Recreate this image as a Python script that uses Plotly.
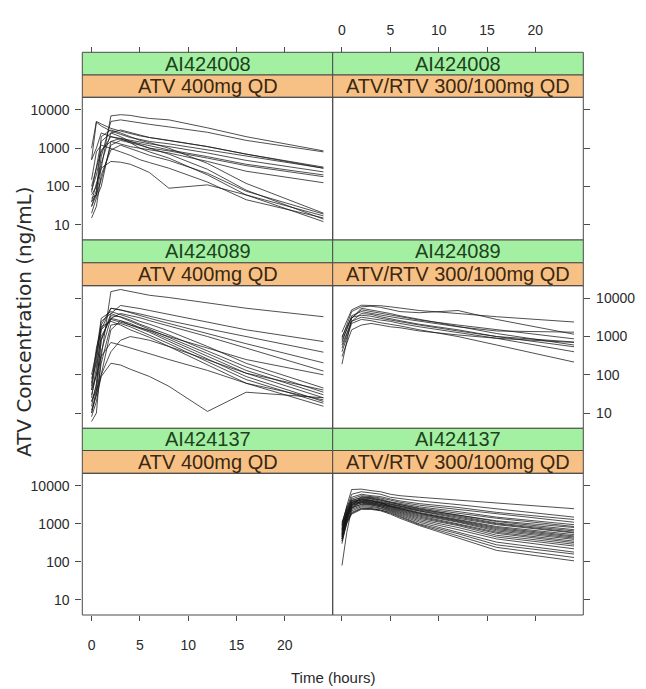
import plotly.graph_objects as go

# ---------------- data ----------------
TIMES = [0, 0.5, 1, 2, 3, 4, 5, 6, 8, 12, 16, 24]
STUDIES = ["AI424008", "AI424089", "AI424137"]
REGIMENS = ["ATV 400mg QD", "ATV/RTV 300/100mg QD"]
X_TICKS = [0, 5, 10, 15, 20]
Y_TICKS = [10, 100, 1000, 10000]
Y_TICK_TEXT = ["10", "100", "1000", "10000"]

# AI424008, ATV 400mg QD
AI424008_ATV = [
    [40, 60, 300, 7000, 7500, 7200, 6500, 6000, 5500, 3400, 2000, 850],
    [30, 80, 600, 5000, 5500, 5000, 4600, 4200, 3600, 2600, 1600, 800],
    [1000, 5000, 4300, 3300, 2800, 2400, 2100, 1900, 1600, 1100, 700, 320],
    [500, 4800, 3800, 2800, 2300, 1900, 1700, 1500, 1300, 900, 600, 300],
    [60, 100, 400, 2500, 3000, 2600, 2200, 1900, 1600, 1100, 700, 300],
    [80, 200, 800, 2000, 1800, 1600, 1400, 1300, 1100, 750, 480, 240],
    [50, 60, 150, 1200, 1600, 1400, 1200, 1000, 850, 550, 350, 180],
    [100, 300, 900, 1500, 1300, 1100, 1000, 900, 750, 450, 250, 125],
    [40, 120, 300, 450, 430, 380, 300, 230, 90, 110, 60, 17],
    [30, 60, 2000, 3000, 2500, 2000, 1600, 1400, 1000, 400, 120, 20],
    [70, 300, 1500, 2500, 2000, 1500, 1200, 1000, 700, 280, 80, 14],
    [20, 50, 100, 1500, 1800, 1400, 1000, 800, 550, 200, 60, 12],
    [150, 800, 1200, 1000, 800, 650, 500, 420, 300, 130, 45, 15],
    [15, 30, 200, 900, 1200, 1000, 800, 650, 480, 220, 75, 19],
    [500, 1000, 2500, 2000, 1700, 1500, 1300, 1150, 900, 600, 380, 200],
]

# AI424089, ATV 400mg QD
AI424089_ATV = [
    [6, 10, 300, 15000, 17000, 15000, 13000, 12000, 10500, 7500, 5500, 3300],
    [20, 50, 800, 4000, 6500, 6000, 5400, 4800, 3800, 2400, 1500, 740],
    [40, 300, 2000, 5500, 5000, 4400, 3900, 3400, 2600, 1600, 1000, 390],
    [30, 100, 1500, 5500, 5000, 4200, 3500, 3000, 2200, 1200, 650, 205],
    [10, 40, 400, 3000, 4000, 3600, 3100, 2600, 1900, 1000, 500, 125],
    [50, 400, 3000, 4500, 3800, 3100, 2500, 2100, 1400, 550, 200, 45],
    [15, 60, 800, 3500, 3300, 2700, 2100, 1700, 1100, 420, 160, 35],
    [80, 200, 2500, 4000, 3200, 2500, 1900, 1500, 950, 360, 130, 30],
    [8, 20, 100, 1500, 2600, 2200, 1700, 1400, 850, 300, 110, 25],
    [25, 150, 1000, 3000, 2600, 2000, 1600, 1300, 750, 260, 90, 20],
    [12, 30, 200, 2000, 2200, 1800, 1400, 1100, 650, 220, 75, 18],
    [60, 500, 1800, 2500, 2000, 1500, 1200, 950, 550, 180, 60, 15],
    [20, 40, 100, 400, 800, 1000, 900, 800, 550, 250, 110, 40],
    [10, 30, 90, 200, 180, 140, 110, 90, 50, 11, 35, 25],
    [40, 100, 300, 700, 600, 500, 420, 350, 250, 130, 60, 22],
    [100, 400, 1500, 2800, 2400, 2000, 1700, 1450, 1000, 500, 250, 100],
]

# AI424089, ATV/RTV 300/100mg QD
AI424089_ATVRTV = [
    [1300, 2500, 5000, 6600, 6500, 6400, 6000, 5500, 4800, 4000, 3300, 2400],
    [900, 2000, 4500, 6000, 6200, 5800, 5000, 4500, 4200, 4800, 2800, 1150],
    [190, 800, 3000, 5000, 4500, 4000, 3600, 3200, 2700, 2000, 1500, 870],
    [700, 1500, 3500, 4500, 4000, 3600, 3300, 3000, 2500, 1800, 1400, 1300],
    [500, 1200, 2500, 4000, 3800, 3300, 2900, 2600, 2100, 1500, 1000, 540],
    [1000, 1800, 3200, 3600, 3400, 3000, 2700, 2500, 2000, 1400, 1000, 720],
    [400, 1000, 2200, 2800, 2600, 2300, 2100, 1900, 1500, 1000, 600, 215],
    [300, 700, 1500, 2000, 2200, 2000, 1800, 1700, 1400, 1100, 900, 700],
    [800, 1600, 3000, 5500, 5000, 4500, 4000, 3500, 2800, 1800, 1200, 600],
    [600, 1300, 2500, 3200, 3000, 2700, 2500, 2200, 1800, 1300, 900, 400],
]

# AI424137, ATV/RTV 300/100mg QD
AI424137_ATVRTV = [
    [900, 3000, 8000, 8200, 7500, 7000, 6000, 5500, 5000, 4200, 3500, 2500],
    [700, 2500, 6000, 7000, 6500, 6000, 5000, 4600, 4000, 3200, 2500, 1500],
    [500, 2000, 5000, 6000, 5500, 5200, 4500, 4000, 3400, 2700, 2000, 1300],
    [1000, 2800, 4500, 5500, 5200, 4800, 4200, 3700, 3100, 2400, 1800, 1100],
    [400, 1500, 4000, 5000, 5000, 4500, 3800, 3400, 2800, 2100, 1500, 950],
    [800, 2200, 4200, 4800, 4600, 4200, 3600, 3200, 2600, 1900, 1400, 850],
    [600, 1800, 3500, 4500, 4500, 4000, 3400, 3000, 2400, 1700, 1200, 800],
    [300, 1200, 3000, 5200, 4800, 4300, 3700, 3200, 2500, 1700, 1150, 700],
    [1100, 2500, 4000, 4200, 4000, 3600, 3200, 2900, 2300, 1600, 1050, 650],
    [450, 1600, 3600, 4600, 4200, 3800, 3300, 2900, 2200, 1500, 1000, 600],
    [750, 2000, 3800, 4000, 3800, 3500, 3000, 2700, 2100, 1400, 950, 575],
    [350, 1300, 3200, 4400, 4100, 3600, 3000, 2600, 2000, 1300, 850, 520],
    [550, 1700, 3300, 3800, 3600, 3300, 2900, 2500, 1900, 1250, 800, 480],
    [80, 600, 2500, 4200, 4000, 3500, 2900, 2500, 1900, 1200, 750, 450],
    [900, 2100, 3500, 3700, 3500, 3200, 2800, 2400, 1800, 1150, 700, 420],
    [400, 1400, 3000, 3900, 3700, 3300, 2700, 2300, 1700, 1100, 650, 390],
    [650, 1800, 3100, 3500, 3300, 3000, 2600, 2200, 1600, 1000, 600, 350],
    [500, 1500, 2800, 3600, 3400, 3000, 2500, 2100, 1500, 950, 560, 320],
    [700, 1600, 2700, 3200, 3100, 2800, 2400, 2000, 1400, 900, 500, 290],
    [450, 1300, 2600, 3300, 3200, 2800, 2300, 1900, 1300, 800, 450, 260],
    [600, 1400, 2400, 3000, 2900, 2600, 2200, 1800, 1200, 700, 400, 220],
    [400, 1100, 2200, 2800, 2700, 2500, 2100, 1700, 1100, 600, 330, 180],
    [550, 1200, 2000, 2600, 2500, 2300, 2000, 1600, 1000, 550, 280, 160],
    [350, 1000, 1900, 2500, 2500, 2300, 1900, 1500, 950, 480, 240, 130],
    [500, 1100, 1800, 2400, 2400, 2200, 1800, 1400, 900, 420, 200, 106],
]

# (row, col) -> subject profiles ; rows = studies, cols = regimens
PANELS = {
    (0, 0): AI424008_ATV,
    (0, 1): [],
    (1, 0): AI424089_ATV,
    (1, 1): AI424089_ATVRTV,
    (2, 0): [],
    (2, 1): AI424137_ATVRTV,
}

# ---------------- layout geometry (window pixels) ----------------
OFF = 8                      # page body margin
W, H = 646 - OFF, 689 - OFF  # figure size
COL_X = [82.3, 332.7, 583.3]
# per row: green top, green/orange boundary, orange bottom (= panel top), panel bottom
ROWS = [(52.3, 75.0, 97.3, 240.0),
        (240.0, 262.8, 285.7, 428.3),
        (428.3, 450.5, 473.3, 615.0)]
X_RANGE = [-0.96, 24.96]
Y_RANGE = [0.6, 4.33]

GREEN = "#a3f0a3"
ORANGE = "#f7c185"
BORDER = "#4a4a4a"
LINE_COLOR = "rgba(25,25,25,0.85)"
TICK_FONT = dict(family="Liberation Sans, Arial, sans-serif", size=14, color="#2a2a2a")
STRIP_FONT = "Liberation Sans, Arial, sans-serif"


def px(x):
    return (x - OFF) / W


def py(y):
    return 1 - (y - OFF) / H


fig = go.Figure()
layout = dict(
    width=W, height=H, autosize=False,
    margin=dict(l=0, r=0, t=0, b=0),
    paper_bgcolor="white", plot_bgcolor="white",
    showlegend=False,
)
shapes = []
annotations = []

for r in range(3):
    g_top, g_bot, p_top, p_bot = ROWS[r]
    for c in range(2):
        k = r * 2 + c + 1
        xs = "" if k == 1 else str(k)
        x0, x1 = COL_X[c], COL_X[c + 1]

        for prof in PANELS[(r, c)]:
            fig.add_trace(go.Scatter(
                x=TIMES, y=prof, mode="lines",
                line=dict(color=LINE_COLOR, width=0.9),
                xaxis="x" + xs, yaxis="y" + xs, hoverinfo="skip",
            ))
        if not PANELS[(r, c)]:
            fig.add_trace(go.Scatter(x=[None], y=[None], mode="lines",
                                     xaxis="x" + xs, yaxis="y" + xs))

        xa = dict(domain=[px(x0), px(x1)], range=X_RANGE, showgrid=False,
                  zeroline=False, showline=False, tickvals=X_TICKS,
                  ticktext=[str(v) for v in X_TICKS], tickfont=TICK_FONT,
                  tickcolor=BORDER, ticklen=5, tickwidth=1)
        if r == 0:
            xa.update(side="top", anchor="free", position=py(g_top),
                      ticks="outside", showticklabels=(c == 1),
                      ticklabelstandoff=7)
        elif r == 2:
            xa.update(side="bottom", anchor="y" + xs, ticks="outside",
                      showticklabels=(c == 0), ticklabelstandoff=12)
        else:
            xa.update(anchor="y" + xs, ticks="", showticklabels=False)

        ya = dict(domain=[py(p_bot), py(p_top)], type="log", range=Y_RANGE,
                  anchor="x" + xs, side="left" if c == 0 else "right",
                  showgrid=False, zeroline=False, showline=False,
                  tickvals=Y_TICKS, ticktext=Y_TICK_TEXT, tickfont=TICK_FONT,
                  ticks="outside", ticklen=6, tickwidth=1, tickcolor=BORDER,
                  showticklabels=((r, c) in [(0, 0), (2, 0), (1, 1)]),
                  ticklabelstandoff=3)
        layout["xaxis" + xs] = xa
        layout["yaxis" + xs] = ya

        # strips
        shapes.append(dict(type="rect", xref="paper", yref="paper",
                           x0=px(x0), x1=px(x1), y0=py(g_bot), y1=py(g_top),
                           fillcolor=GREEN, line=dict(color=BORDER, width=1)))
        shapes.append(dict(type="rect", xref="paper", yref="paper",
                           x0=px(x0), x1=px(x1), y0=py(p_top), y1=py(g_bot),
                           fillcolor=ORANGE, line=dict(color=BORDER, width=1)))
        annotations.append(dict(text=STUDIES[r], xref="paper", yref="paper",
                                x=px((x0 + x1) / 2), y=py((g_top + g_bot) / 2),
                                showarrow=False, xanchor="center", yanchor="middle",
                                font=dict(family=STRIP_FONT, size=20, color="#1d421d")))
        annotations.append(dict(text=REGIMENS[c], xref="paper", yref="paper",
                                x=px((x0 + x1) / 2), y=py((g_bot + p_top) / 2),
                                showarrow=False, xanchor="center", yanchor="middle",
                                font=dict(family=STRIP_FONT, size=20, color="#3a2810")))
        # panel border
        shapes.append(dict(type="rect", xref="paper", yref="paper", layer="above",
                           x0=px(x0), x1=px(x1), y0=py(p_bot), y1=py(p_top),
                           fillcolor="rgba(0,0,0,0)", line=dict(color=BORDER, width=1)))

annotations.append(dict(text="ATV Concentration (ng/mL)", xref="paper", yref="paper",
                        x=px(24), y=py(322), textangle=-90, showarrow=False,
                        xanchor="center", yanchor="middle",
                        font=dict(family="DejaVu Sans, Verdana, sans-serif", size=20,
                                  color="#2a2a2a")))
annotations.append(dict(text="Time (hours)", xref="paper", yref="paper",
                        x=px(333), y=py(677), showarrow=False,
                        xanchor="center", yanchor="middle",
                        font=dict(family="Liberation Sans, Arial, sans-serif",
                                  size=15, color="#2a2a2a")))

layout["shapes"] = shapes
layout["annotations"] = annotations
fig.update_layout(**layout)
fig.write_html("out.html")
